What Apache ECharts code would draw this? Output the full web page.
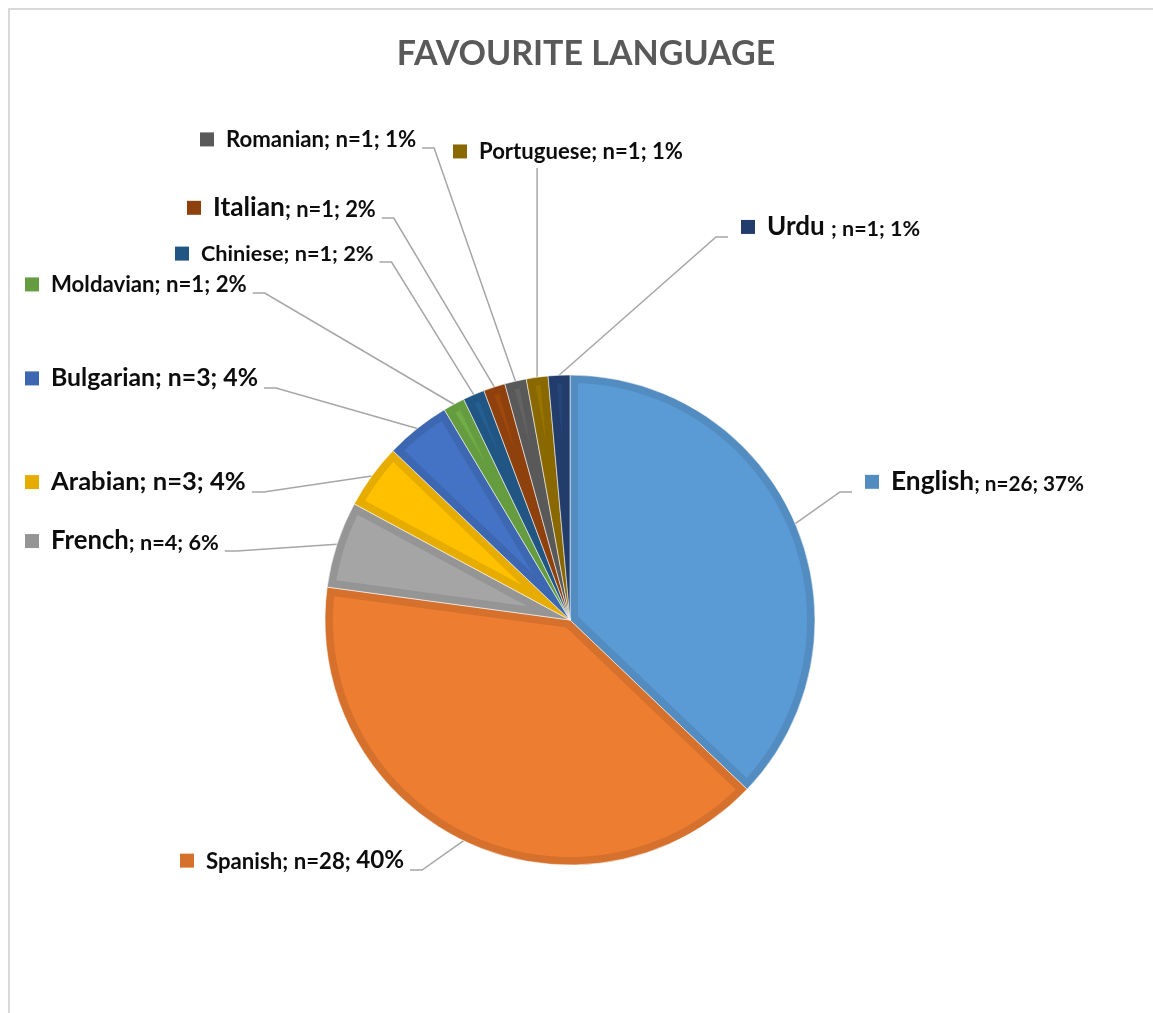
<!DOCTYPE html>
<html>
<head>
<meta charset="utf-8">
<script src="https://cdn.jsdelivr.net/npm/echarts@6/dist/echarts.min.js"></script>
<style>
  html, body { margin: 0; padding: 0; background: #ffffff; }
  #chart { width: 1153px; height: 1013px; }
</style>
</head>
<body>
<div id="chart"></div>
<script>
// ---- data ----
const titleText = 'FAVOURITE LANGUAGE';
const languages = ['English', 'Spanish', 'French', 'Arabian', 'Bulgarian', 'Moldavian', 'Chiniese', 'Italian', 'Romanian', 'Portuguese', 'Urdu '];
const respondents = [26, 28, 4, 3, 3, 1, 1, 1, 1, 1, 1];
const shareLabels = ['37%', '40%', '6%', '4%', '4%', '2%', '2%', '2%', '1%', '1%', '1%'];

// ---- styling ----
const FONT = 'Lato';
const sliceFill = ['#5B9BD5', '#ED7D31', '#A5A5A5', '#FFC000', '#4472C4', '#70AD47', '#255E91', '#9E480E', '#636363', '#997300', '#264478'];
function shade(hex, f) {
  const n = parseInt(hex.slice(1), 16);
  const ch = [(n >> 16) & 255, (n >> 8) & 255, n & 255].map(v => Math.round(v * f));
  return '#' + ch.map(v => v.toString(16).padStart(2, '0')).join('');
}
const sliceEdge = sliceFill.map(c => shade(c, 0.9));

// callout font sizes: [language name, "; n=..; ", share]
const calloutSizes = [
  [26.3, 20.7, 20.7], // English
  [22.2, 22.2, 24.2], // Spanish
  [25.7, 21.7, 21.7], // French
  [25.6, 25.6, 25.6], // Arabian
  [24.8, 24.8, 24.8], // Bulgarian
  [22.2, 22.2, 22.2], // Moldavian
  [21.7, 21.7, 21.7], // Chiniese
  [26.3, 21.9, 21.9], // Italian
  [22.2, 22.2, 22.2], // Romanian
  [22.1, 22.1, 22.1], // Portuguese
  [26, 21.5, 21.5]    // Urdu
];
// callout placement: left edge of the key square, text baseline, side the leader line leaves from
const calloutPlace = [
  { x: 865, base: 492, side: 'left' },
  { x: 180, base: 870, side: 'right' },
  { x: 25,  base: 551, side: 'right' },
  { x: 25,  base: 492, side: 'right' },
  { x: 25,  base: 388, side: 'right' },
  { x: 25,  base: 293, side: 'right' },
  { x: 175, base: 262, side: 'right' },
  { x: 187, base: 218, side: 'right' },
  { x: 200, base: 148, side: 'right' },
  { x: 453, base: 160, side: 'below' },
  { x: 741, base: 237, side: 'left' }
];

const CX = 570, CY = 620, R = 245, INSET = 8;
const BASE_K = 0.774; // token box height / font size, keeps mixed sizes on one baseline

const rich = { gap: { width: 12, height: 1 } };
sliceEdge.forEach((c, i) => {
  rich['k' + i] = { width: 14, height: 14, backgroundColor: c, verticalAlign: 'middle' };
});
const sizeKey = s => 'f' + String(s).replace('.', '_');
calloutSizes.flat().forEach(s => {
  rich[sizeKey(s)] = {
    fontFamily: FONT, fontWeight: 'bold', fontSize: s, color: '#0d0d0d',
    height: s * BASE_K, verticalAlign: 'bottom'
  };
});

function callout(p) {
  const i = p.dataIndex;
  const sz = calloutSizes[i];
  return '{k' + i + '|}{gap|}' +
    '{' + sizeKey(sz[0]) + '|' + languages[i] + '}' +
    '{' + sizeKey(sz[1]) + '|; n=' + respondents[i] + '; }' +
    '{' + sizeKey(sz[2]) + '|' + shareLabels[i] + '}';
}

const total = respondents.reduce((a, b) => a + b, 0);
function sliceAngles(i) {
  const before = respondents.slice(0, i).reduce((a, b) => a + b, 0);
  const s = Math.PI / 2 - before / total * Math.PI * 2;
  const e = s - respondents[i] / total * Math.PI * 2;
  return [s, e];
}

// lighter inner face of every slice, inset from its darker edge
function renderFace(params, api) {
  const i = api.value(0);
  const [s, e] = sliceAngles(i);
  const h = (s - e) / 2, m = (s + e) / 2;
  const rIn = R - INSET;
  const t = INSET / Math.sin(h);
  if (t > rIn - 3) return null;
  const d = Math.asin(INSET / rIn);
  const a0 = s - d, a1 = e + d;
  const steps = Math.max(2, Math.ceil((a0 - a1) / (Math.PI / 180)));
  const pts = [[CX + t * Math.cos(m), CY - t * Math.sin(m)]];
  for (let k = 0; k <= steps; k++) {
    const a = a0 - (a0 - a1) * k / steps;
    pts.push([CX + rIn * Math.cos(a), CY - rIn * Math.sin(a)]);
  }
  return { type: 'polygon', z2: 10, shape: { points: pts }, style: { fill: sliceFill[i] } };
}

function placeCallout(p) {
  const i = p.dataIndex;
  const pl = calloutPlace[i];
  const w = p.labelRect.width;
  let a = p.labelLinePoints && p.labelLinePoints[0];
  if (!a) {
    const [s, e] = sliceAngles(i);
    const m = (s + e) / 2;
    a = [CX + R * Math.cos(m), CY - R * Math.sin(m)];
  }
  let pts;
  if (pl.side === 'right') {
    const ex = pl.x + w + 6;
    pts = [a, [ex + 12, pl.base], [ex, pl.base]];
  } else if (pl.side === 'left') {
    const ex = pl.x - 13;
    pts = [a, [ex - 12, pl.base], [ex, pl.base]];
  } else {
    pts = [a, [a[0], pl.base + 8], [a[0], pl.base + 8]];
  }
  return { x: pl.x, y: pl.base, align: 'left', verticalAlign: 'bottom', labelLinePoints: pts };
}

const chart = echarts.init(document.getElementById('chart'), null, { renderer: 'canvas' });
chart.setOption({
  backgroundColor: '#ffffff',
  animation: false,
  title: {
    text: titleText,
    left: 586, top: 54, padding: 0,
    textAlign: 'center', textVerticalAlign: 'middle',
    textStyle: { fontFamily: FONT, fontWeight: 'bold', fontSize: 34, color: '#595959' }
  },
  graphic: [
    { type: 'polyline', silent: true, shape: { points: [[9, 1013], [9, 9], [1153, 9]] }, style: { stroke: '#d9d9d9', lineWidth: 2, fill: null } }
  ],
  series: [
    {
      type: 'pie',
      z: 2,
      center: [CX, CY],
      radius: R,
      startAngle: 90,
      clockwise: true,
      avoidLabelOverlap: false,
      emphasis: { disabled: true },
      itemStyle: { borderColor: 'rgba(255,255,255,0.55)', borderWidth: 1 },
      data: languages.map((name, i) => ({ name, value: respondents[i], itemStyle: { color: sliceEdge[i] } })),
      label: { show: true, position: 'outside', overflow: 'none', formatter: callout, rich },
      labelLine: { show: true, length: 12, length2: 12, smooth: false, lineStyle: { color: '#a6a6a6', width: 1.5 } },
      labelLayout: placeCallout
    },
    {
      type: 'custom',
      z: 3,
      coordinateSystem: 'none',
      silent: true,
      dimensions: ['slice', 'count'],
      data: respondents.map((v, i) => [i, v]),
      renderItem: renderFace
    }
  ]
});
</script>
</body>
</html>
